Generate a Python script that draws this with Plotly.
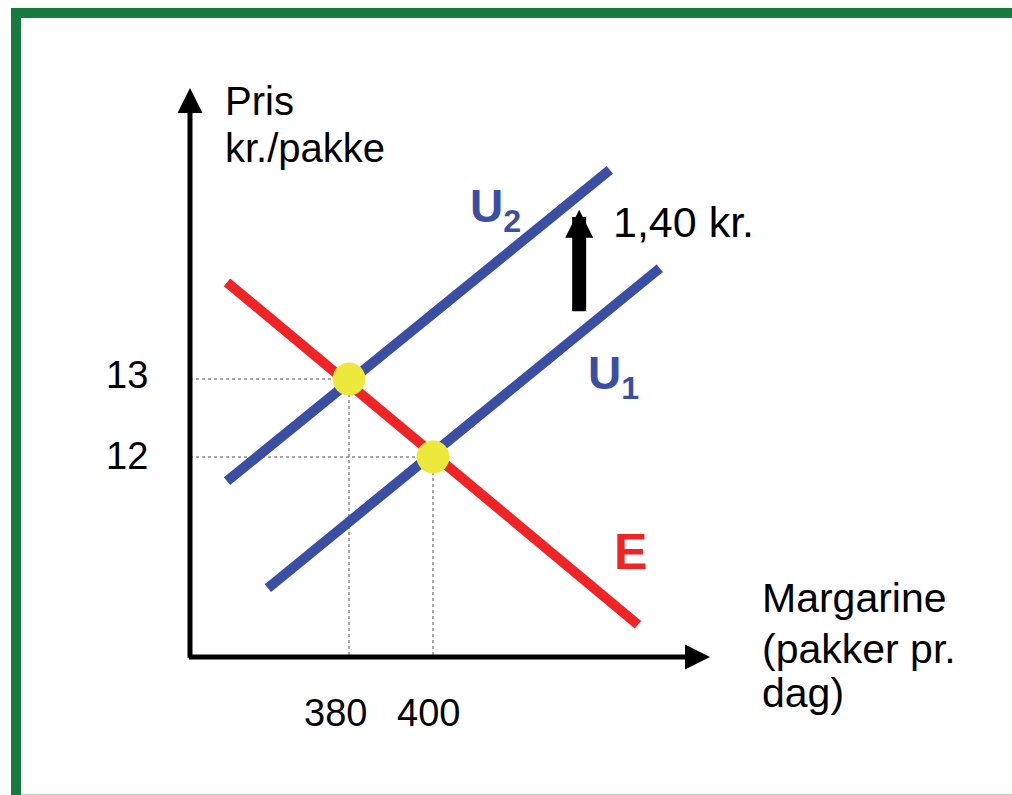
import plotly.graph_objects as go

W, H = 1012, 795

# ---------------- data ----------------
eq_quantities = [380, 400]          # equilibrium quantities (U2/E, U1/E)
eq_prices = [13, 12]                # equilibrium prices
x_tick_labels = ["380", "400"]
y_tick_labels = ["13", "12"]

demand_x = [350.95, 448.8]          # E
demand_y = [14.24, 9.85]
supply1_x = [360.7, 454.0]          # U1
supply1_y = [10.32, 14.42]
supply2_x = [350.95, 442.1]         # U2
supply2_y = [11.69, 15.68]

tax_x = 434.8                       # shift arrow
tax_from = 13.85
tax_to = 15.17
tax_label = "1,40 kr."

axis_origin_x = 342.14
axis_origin_y = 9.436
x_axis_end = 465.95
y_axis_end = 16.73

x_range = [296.905, 537.857]
y_range = [7.667, 17.859]

BLUE = "#3A4FA3"
RED = "#EE2426"
YELLOW = "#EDE83C"
GREEN = "#177A3E"
FONT = "Liberation Sans, Arial, sans-serif"


def px(xp):
    return xp / W


def py(yp):
    return 1 - yp / H


fig = go.Figure()

# dotted guide lines
for q, p in zip(eq_quantities, eq_prices):
    fig.add_trace(go.Scatter(x=[axis_origin_x, q, q], y=[p, p, axis_origin_y],
                             mode="lines", line=dict(color="#8a8a8a", width=1.5, dash="dot"),
                             hoverinfo="skip", showlegend=False))

# curves
fig.add_trace(go.Scatter(x=supply2_x, y=supply2_y, mode="lines",
                         line=dict(color=BLUE, width=10), showlegend=False))
fig.add_trace(go.Scatter(x=supply1_x, y=supply1_y, mode="lines",
                         line=dict(color=BLUE, width=10), showlegend=False))
fig.add_trace(go.Scatter(x=demand_x, y=demand_y, mode="lines",
                         line=dict(color=RED, width=10), showlegend=False))

# equilibrium points
fig.add_trace(go.Scatter(x=eq_quantities, y=eq_prices, mode="markers",
                         marker=dict(color=YELLOW, size=33, line=dict(width=0)),
                         showlegend=False))

annotations = []

# axes with arrowheads
annotations.append(dict(x=x_axis_end, y=axis_origin_y, ax=axis_origin_x - 0.6, ay=axis_origin_y,
                        xref="x", yref="y", axref="x", ayref="y", text="", showarrow=True,
                        arrowhead=2, arrowsize=1, arrowwidth=5, arrowcolor="black", standoff=0))
annotations.append(dict(x=axis_origin_x, y=y_axis_end, ax=axis_origin_x, ay=axis_origin_y - 0.03,
                        xref="x", yref="y", axref="x", ayref="y", text="", showarrow=True,
                        arrowhead=2, arrowsize=1, arrowwidth=5, arrowcolor="black", standoff=0))

# shift arrow
annotations.append(dict(x=tax_x, y=tax_to, ax=tax_x, ay=tax_from,
                        xref="x", yref="y", axref="x", ayref="y", text="", showarrow=True,
                        arrowhead=2, arrowsize=0.4, arrowwidth=14, arrowcolor="black", standoff=0))

# tick labels
for q, t, xs in zip(eq_quantities, x_tick_labels, [-14, -5]):
    annotations.append(dict(x=q, y=axis_origin_y, xref="x", yref="y", text=t, showarrow=False,
                            xanchor="center", yanchor="middle", xshift=xs, yshift=-56,
                            font=dict(family=FONT, size=38, color="black")))
for p, t, ys in zip(eq_prices, y_tick_labels, [4, 1]):
    annotations.append(dict(x=axis_origin_x, y=p, xref="x", yref="y", text=t, showarrow=False,
                            xanchor="right", yanchor="middle", xshift=-40, yshift=ys,
                            font=dict(family=FONT, size=38, color="black")))

# axis titles
for txt, ypix in [("Pris", 101), ("kr./pakke", 148)]:
    annotations.append(dict(x=px(223), y=py(ypix), xref="paper", yref="paper", text=txt,
                            showarrow=False, xanchor="left", yanchor="middle",
                            font=dict(family=FONT, size=40, color="black")))
for txt, ypix in [("Margarine", 598), ("(pakker pr.", 649), ("dag)", 693)]:
    annotations.append(dict(x=px(760), y=py(ypix), xref="paper", yref="paper", text=txt,
                            showarrow=False, xanchor="left", yanchor="middle",
                            font=dict(family=FONT, size=41, color="black")))

# curve labels
annotations.append(dict(x=px(468), y=py(210), xref="paper", yref="paper",
                        text="<b>U<sub>2</sub></b>", showarrow=False, xanchor="left", yanchor="middle",
                        font=dict(family=FONT, size=46, color=BLUE)))
annotations.append(dict(x=px(586), y=py(376), xref="paper", yref="paper",
                        text="<b>U<sub>1</sub></b>", showarrow=False, xanchor="left", yanchor="middle",
                        font=dict(family=FONT, size=46, color=BLUE)))
annotations.append(dict(x=px(612), y=py(552), xref="paper", yref="paper",
                        text="<b>E</b>", showarrow=False, xanchor="left", yanchor="middle",
                        font=dict(family=FONT, size=50, color=RED)))
annotations.append(dict(x=px(611), y=py(222), xref="paper", yref="paper",
                        text=tax_label, showarrow=False, xanchor="left", yanchor="middle",
                        font=dict(family=FONT, size=43, color="black")))

shapes = [
    dict(type="rect", xref="paper", yref="paper", x0=px(16), y0=py(13), x1=px(1040), y1=py(830),
         line=dict(color=GREEN, width=10), fillcolor="rgba(0,0,0,0)", layer="above"),
    dict(type="line", xref="paper", yref="paper", x0=px(21), y0=py(794.5), x1=1, y1=py(794.5),
         line=dict(color="#a9dcbb", width=1)),
]

fig.update_layout(
    width=W, height=H,
    margin=dict(l=0, r=0, t=0, b=0),
    paper_bgcolor="white", plot_bgcolor="white",
    xaxis=dict(range=x_range, visible=False, fixedrange=True),
    yaxis=dict(range=y_range, visible=False, fixedrange=True),
    annotations=annotations,
    shapes=shapes,
    showlegend=False,
)

fig.write_html(
    "out.html",
    config={"displayModeBar": False},
    post_script="document.body.style.margin='0';document.body.style.overflow='hidden';",
)
